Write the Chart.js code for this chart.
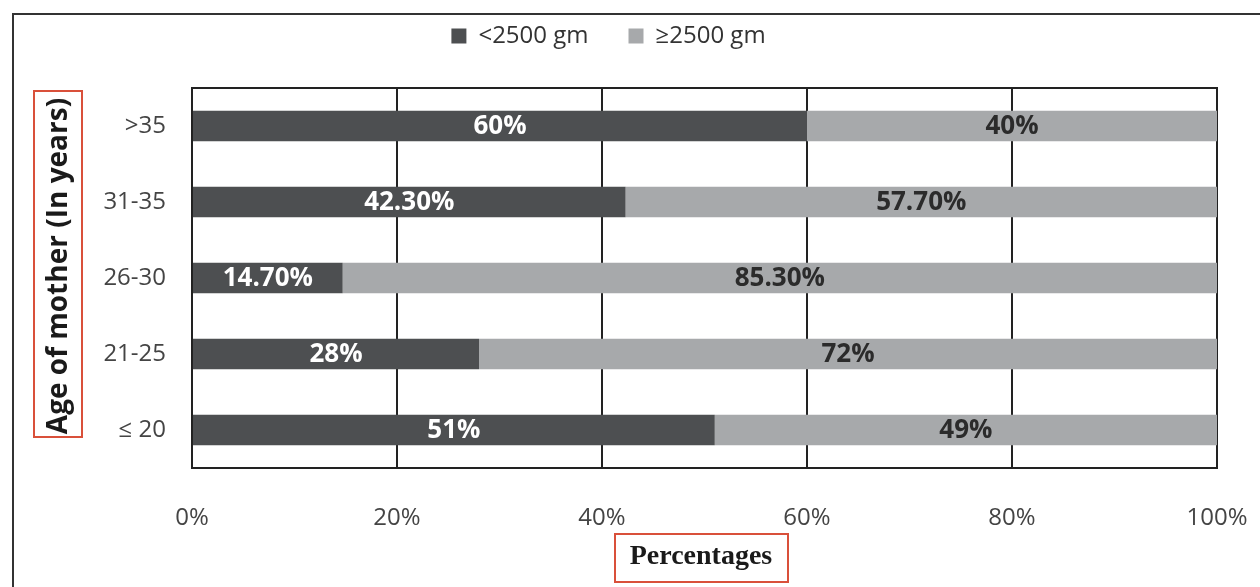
<!DOCTYPE html>
<html>
<head>
<meta charset="utf-8">
<script src="https://cdn.jsdelivr.net/npm/chart.js@4.4.1/dist/chart.umd.min.js"></script>
<style>
  html, body { margin: 0; padding: 0; background: #fff; overflow: hidden; }
  #wrap { position: relative; width: 1260px; height: 587px; }
  #frame { position: absolute; left: 12px; top: 13px; width: 1260px; height: 600px; border: 2px solid #333; box-sizing: border-box; }
  canvas { position: absolute; left: 0; top: 0; }
</style>
</head>
<body>
<div id="wrap">
  <div id="frame"></div>
  <canvas id="ageChart" width="1260" height="587"></canvas>
</div>
<script>
// data
const ageGroups = ['>35', '31-35', '26-30', '21-25', '\u2264 20'];
const lowWeight = [60, 42.3, 14.7, 28, 51];
const normalWeight = [40, 57.7, 85.3, 72, 49];
const seriesNames = ['<2500 gm', '\u22652500 gm'];
const xTicks = [0, 20, 40, 60, 80, 100];

const darkGrey = '#4d4f51';
const lightGrey = '#a7a9ab';

const fmtPct = function (v) {
    return Number.isInteger(v) ? v + '%' : v.toFixed(2) + '%';
};

const noSidePadding = function (axis) {
    axis.paddingLeft = 0;
    axis.paddingRight = 0;
};

// value labels inside bars + boxed axis titles
const labelPlugin = {
    id: 'labelPlugin',
    afterDatasetsDraw(chart) {
        const ctx = chart.ctx;
        ctx.save();
        ctx.font = 'bold 26px "Open Sans"';
        ctx.textAlign = 'center';
        ctx.textBaseline = 'middle';
        chart.data.datasets.forEach(function (ds, di) {
            chart.getDatasetMeta(di).data.forEach(function (bar, i) {
                const cx = (bar.x + bar.base) / 2;
                ctx.fillStyle = di === 0 ? '#ffffff' : '#2b2b2b';
                ctx.fillText(fmtPct(ds.data[i]), cx, bar.y + 1);
            });
        });
        ctx.restore();
    },
    afterDraw(chart) {
        const ctx = chart.ctx;
        ctx.save();
        // y title
        ctx.font = 'bold 28px "Open Sans"';
        ctx.fillStyle = '#1a1a1a';
        ctx.textAlign = 'center';
        ctx.textBaseline = 'middle';
        ctx.translate(59, 266);
        ctx.rotate(-Math.PI / 2);
        ctx.fillText('Age of mother (In years)', 0, 0);
        ctx.restore();
        ctx.save();
        ctx.strokeStyle = '#d9503a';
        ctx.lineWidth = 2;
        ctx.strokeRect(34, 91, 48, 346);
        // x title
        ctx.font = 'bold 28px "Liberation Serif"';
        ctx.fillStyle = '#1a1a1a';
        ctx.textAlign = 'center';
        ctx.textBaseline = 'middle';
        ctx.fillText('Percentages', 701, 557);
        ctx.strokeRect(615, 534, 173, 48);
        ctx.restore();
    }
};

new Chart(document.getElementById('ageChart'), {
    type: 'bar',
    data: {
        labels: ageGroups,
        datasets: [{
            label: seriesNames[0],
            data: lowWeight,
            backgroundColor: darkGrey,
            categoryPercentage: 0.4,
            barPercentage: 1
        }, {
            label: seriesNames[1],
            data: normalWeight,
            backgroundColor: lightGrey,
            categoryPercentage: 0.4,
            barPercentage: 1
        }]
    },
    options: {
        indexAxis: 'y',
        responsive: false,
        animation: false,
        layout: { padding: { left: 0, right: 43, top: -16, bottom: 0 } },
        scales: {
            x: {
                stacked: true,
                min: 0,
                max: 100,
                afterBuildTicks: function (axis) {
                    axis.ticks = xTicks.map(function (v) { return { value: v }; });
                },
                afterFit: function (axis) { axis.height = 119; noSidePadding(axis); },
                grid: { color: '#222', lineWidth: 2, drawTicks: false },
                border: { display: true, color: '#222', width: 2 },
                ticks: {
                    padding: 36,
                    color: '#444',
                    font: { family: 'Open Sans', size: 24 },
                    callback: function (v) { return v + '%'; }
                }
            },
            y: {
                stacked: true,
                afterFit: function (axis) { axis.width = 192; },
                grid: { display: false },
                border: { display: true, color: '#222', width: 2 },
                ticks: {
                    padding: 18,
                    color: '#444',
                    font: { family: 'Open Sans', size: 24 }
                }
            },
            x2: {
                position: 'top',
                min: 0,
                max: 100,
                afterFit: function (axis) { axis.height = 30; noSidePadding(axis); },
                ticks: { display: false },
                grid: { display: false, drawTicks: false },
                border: { display: true, color: '#222', width: 2 }
            },
            y2: {
                position: 'right',
                afterFit: function (axis) { axis.width = 0; },
                ticks: { display: false },
                grid: { display: false, drawTicks: false },
                border: { display: true, color: '#222', width: 2 }
            }
        },
        plugins: {
            legend: {
                position: 'top',
                labels: {
                    color: '#333',
                    font: { family: 'Open Sans', size: 24 },
                    boxWidth: 15,
                    boxHeight: 15,
                    padding: 40
                }
            },
            tooltip: { enabled: false }
        }
    },
    plugins: [labelPlugin]
});
</script>
</body>
</html>
